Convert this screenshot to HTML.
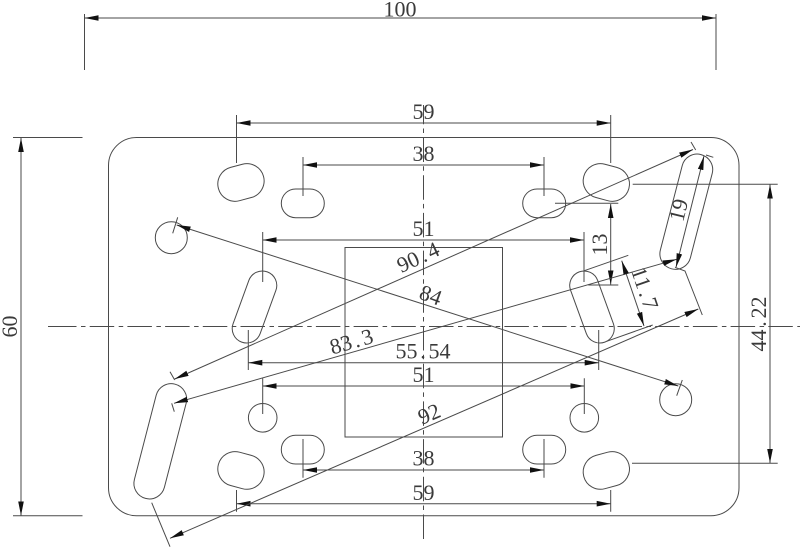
<!DOCTYPE html>
<html><head><meta charset="utf-8"><style>
html,body{margin:0;padding:0;background:#fff}
svg{display:block}
text{font-family:"Liberation Serif",serif;font-size:22px;fill:#3a3a3a;text-anchor:middle}
</style></head><body>
<svg xmlns="http://www.w3.org/2000/svg" width="800" height="548" viewBox="0 0 800 548">
<defs>
<marker id="a" markerUnits="userSpaceOnUse" markerWidth="16" markerHeight="8" refX="14" refY="4" orient="auto-start-reverse"><path d="M0 1.2L14 4L0 6.8Z" fill="#111"/></marker>
</defs>
<g fill="none" stroke="#4a4a4a" stroke-width="1">
<rect x="108.5" y="137.5" width="630.5" height="378.2" rx="28" ry="28"/>
<rect x="345" y="247.5" width="157.5" height="189.5"/>
<path d="M48 326.5H52" />
<path d="M52 326.5H800" stroke-dasharray="24.5 4.5 4.5 4.2"/>
<path d="M423.5 539V105" stroke-dasharray="24.5 4.5 4.5 4.2"/>

<rect x="217.6" y="165.2" width="46.7" height="34.5" rx="17.25" transform="rotate(-15 241 182.4)"/>
<rect x="583" y="165.2" width="46.7" height="34.5" rx="17.25" transform="rotate(15 606.3 182.4)"/>
<rect x="217.6" y="453.2" width="46.7" height="34.5" rx="17.25" transform="rotate(15 241 470.5)"/>
<rect x="583" y="453.2" width="46.7" height="34.5" rx="17.25" transform="rotate(-15 606.3 470.5)"/>
<rect x="281.3" y="189" width="43" height="28.7" rx="14.35"/>
<rect x="522.7" y="189" width="43" height="28.7" rx="14.35"/>
<rect x="281.3" y="435.3" width="43" height="28.7" rx="14.35"/>
<rect x="522.7" y="435.3" width="43" height="28.7" rx="14.35"/>
<circle cx="171.3" cy="237.7" r="16"/>
<circle cx="675.7" cy="399.7" r="16"/>
<circle cx="262.7" cy="417.8" r="14.3"/>
<circle cx="584.3" cy="417.8" r="14.3"/>
<rect x="240.1" y="269.6" width="28.8" height="74.8" rx="14.4" transform="rotate(20 254.5 307)"/>
<rect x="577.6" y="269.6" width="28.8" height="74.8" rx="14.4" transform="rotate(-20 592 307)"/>
<rect x="144.8" y="382.3" width="31" height="118" rx="15.5" transform="rotate(14.5 160.3 441.3)"/>
<rect x="670.8" y="152.7" width="31" height="118" rx="15.5" transform="rotate(14.5 686.3 211.7)"/>

<!-- extension lines -->
<path d="M84.5 14V70M716 14V70"/>
<path d="M236.5 115V163M610.7 115V163M303 157V196M544 157V196"/>
<path d="M262.7 232V282M584 232V282"/>
<path d="M248.3 330V370M598.7 330V370"/>
<path d="M262.7 378.3V414M584.3 378.3V414"/>
<path d="M303 439V477.7M544 439V477.7"/>
<path d="M236.5 490V511.7M610.7 490V511.7"/>
<path d="M13 137.5H82.5M13 515.7H82.5"/>
<path d="M632.7 184.3H777.7M632 463.3H777.7"/>
<path d="M555 203.3H618.3M588.3 285H618.3"/>
<path d="M691 142L695.7 150M170 371.7L174.7 380"/>
<path d="M177.7 217.3L172.7 233.3M682.3 380L676.7 395.7"/>
<path d="M171.7 403.3L174.3 411.7"/>
<path d="M151.7 502.7L170 546.7M675 267.3L685 271L702.3 315"/>
<path d="M706 155L713.3 157.3"/>
<path d="M584.3 270.7L628.3 255.3M606.7 341.3L652.7 325"/>

<!-- dimension lines -->
<g marker-start="url(#a)" marker-end="url(#a)">
<line x1="84.5" y1="18" x2="716" y2="18"/>
<line x1="236.5" y1="123" x2="610.7" y2="123"/>
<line x1="303" y1="165" x2="544" y2="165"/>
<line x1="262.7" y1="240" x2="584" y2="240"/>
<line x1="248.3" y1="362.7" x2="598.7" y2="362.7"/>
<line x1="262.7" y1="386" x2="584.3" y2="386"/>
<line x1="303" y1="470" x2="544" y2="470"/>
<line x1="236.5" y1="503.7" x2="610.7" y2="503.7"/>
<line x1="21" y1="138" x2="21" y2="515.5"/>
<line x1="770" y1="184.5" x2="770" y2="463"/>
<line x1="610.7" y1="204" x2="610.7" y2="284.5"/>
<line x1="693" y1="149.5" x2="174.7" y2="379"/>
<line x1="176.7" y1="225" x2="678.3" y2="386"/>
<line x1="174" y1="403.3" x2="676.7" y2="259.3"/>
<line x1="170" y1="538.3" x2="698.3" y2="309"/>
<line x1="704" y1="156" x2="676" y2="267.3"/>
<line x1="621.7" y1="260.7" x2="644" y2="326"/>
</g>
</g>
<text x="400" y="16.5">100</text>
<text x="423.5" y="119">59</text>
<text x="423.5" y="161">38</text>
<text x="423.5" y="236">51</text>
<text x="423" y="358.3">55<tspan dx="2.75">.</tspan><tspan dx="2.75">54</tspan></text>
<text x="423.5" y="382">51</text>
<text x="423.5" y="465.7">38</text>
<text x="423.5" y="500">59</text>
<text transform="translate(17 326.5) rotate(-90)">60</text>
<text transform="translate(607 244.5) rotate(-90)">13</text>
<text transform="translate(766 324) rotate(-90)">44<tspan dx="2.75">.</tspan><tspan dx="2.75">22</tspan></text>
<text transform="translate(685.6 211.8) rotate(-76)">19</text>
<text transform="translate(637.9 290.7) rotate(71)">11<tspan dx="2.75">.</tspan><tspan dx="2.75">7</tspan></text>
<text transform="translate(421.2 263.8) rotate(-25)">90<tspan dx="2.75">.</tspan><tspan dx="2.75">4</tspan></text>
<text transform="translate(428.2 302) rotate(20)">84</text>
<text transform="translate(353.4 348.5) rotate(-16)">83<tspan dx="2.75">.</tspan><tspan dx="2.75">3</tspan></text>
<text transform="translate(432 420.6) rotate(-23)">92</text>
</svg>
</body></html>
